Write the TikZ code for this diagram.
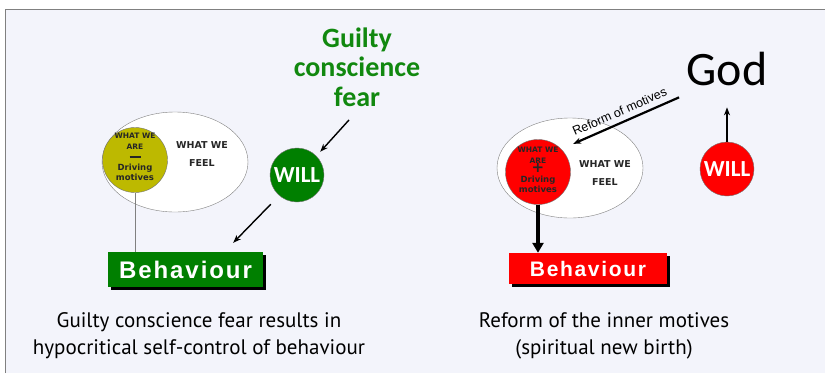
\documentclass[tikz,border=0pt]{standalone}
\usepackage{fontspec}
\setmainfont{Liberation Sans}
\newfontfamily\dejavu{DejaVu Sans}
\newfontfamily\carlito{Carlito}
\newfontfamily\ptsans{PT Sans}
\usetikzlibrary{shapes.geometric,arrows.meta,shadows}
\definecolor{panelbg}{HTML}{F3F4FB}
\definecolor{darkgreen}{HTML}{007F00}
\definecolor{feargreen}{HTML}{11880F}
\definecolor{motiveyellow}{HTML}{BDB900}
\definecolor{brightred}{HTML}{FF0000}

\begin{document}
\begin{tikzpicture}[x=1pt,y=-1pt,
  feel/.style={ellipse,draw=gray,fill=white,minimum width=146pt,minimum height=100pt},
  core/.style={circle,draw=black!55,minimum size=65pt,inner sep=0pt},
  coretext/.style={align=center,inner sep=0pt,text=black!85,font=\dejavu\bfseries\fontsize{7.5}{10.5}\selectfont},
  feeltext/.style={align=center,text=black!85,font=\dejavu\bfseries\fontsize{9.5}{18}\selectfont},
  will/.style={circle,draw=black!55,minimum size=54pt,inner sep=0pt,text=white,font=\carlito\bfseries\fontsize{23}{23}\selectfont},
  behav/.style={inner sep=0pt,text=white,drop shadow={shadow xshift=2.5pt,shadow yshift=-2.5pt,fill=black,opacity=1}},
  caption/.style={align=center,font=\ptsans\fontsize{21}{27}\selectfont},
  arr/.style={-{Stealth[length=8pt,width=6pt]},line width=1.4pt}]
\useasboundingbox (0,0) rectangle (825,373);
\fill[white] (0,0) rectangle (825,373);
\fill[panelbg] (5,9) rectangle (825,373);
\draw[gray,line width=1pt] (5,373) -- (5,9) -- (825,9);

\node[feel] (feelL) at (175,162) {};
\node[feeltext] (feelLtext) at (202,154) {WHAT WE\\FEEL};
\node[core,fill=motiveyellow] (areL) at (135,160) {};
\node[coretext] (areLtext) at (135,157) {WHAT WE\\ARE\\\rule[1.5pt]{11pt}{2.2pt}\\{\fontsize{8.5}{10.5}\selectfont Driving}\\{\fontsize{8.5}{10.5}\selectfont motives}};
\node[will,fill=darkgreen] (willL) at (297,175) {WILL};
\node[align=center,text=feargreen,font=\carlito\bfseries\fontsize{28}{29.5}\selectfont] (fear) at (357,67) {Guilty\\conscience\\fear};
\node[behav,fill=darkgreen,minimum width=155pt,minimum height=35pt,font=\bfseries\fontsize{24}{24}\selectfont\addfontfeature{LetterSpace=8}] (behavL) at (185.5,269.5) {Behaviour};

\draw[arr] ([shift={(-8,10)}]fear.south) -- ([shift={(4,-4)}]willL.north east);
\draw[arr] ([shift={(-7,10)}]willL.south west) -- ([shift={(-30,-9)}]behavL.north east);
\draw[gray] (areL.south) -- (areL.south |- behavL.north);

\node[feel] (feelR) at (570,168) {};
\node[feeltext] (feelRtext) at (605,173) {WHAT WE\\FEEL};
\node[core,fill=brightred] (areR) at (538,172) {};
\node[coretext] (areRtext) at (538,170) {WHAT WE\\ARE\\[-1pt]{\fontsize{15}{10}\selectfont +}\\[-1pt]{\fontsize{8.5}{10.5}\selectfont Driving}\\{\fontsize{8.5}{10.5}\selectfont motives}};
\node[will,fill=brightred] (willR) at (727,169) {WILL};
\node[font=\carlito\fontsize{48}{48}\selectfont] (god) at (727,69) {God};
\node[behav,fill=brightred,minimum width=158pt,minimum height=31pt,font=\bfseries\fontsize{21}{21}\selectfont\addfontfeature{LetterSpace=8}] (behavR) at (588,268.5) {Behaviour};

\draw[arr,line width=2.2pt] ([shift={(-4,8)}]god.south west) -- node[sloped,above=2pt,font=\fontsize{12.5}{12.5}\selectfont,pos=0.52] (reformlabel) {Reform of motives} ([shift={(12,-5)}]areR.north east);
\draw[arr] (willR.north) -- ([yshift=-18pt]god.south);
\draw[-{Triangle[length=10pt,width=11pt]},line width=3.5pt] (areR.south) -- (areR.south |- behavR.north);

\node[caption] (capL) at (199,336) {Guilty conscience fear results in\\hypocritical self-control of behaviour};
\node[caption] (capR) at (604,336) {Reform of the inner motives\\(spiritual new birth)};
\end{tikzpicture}
\end{document}
